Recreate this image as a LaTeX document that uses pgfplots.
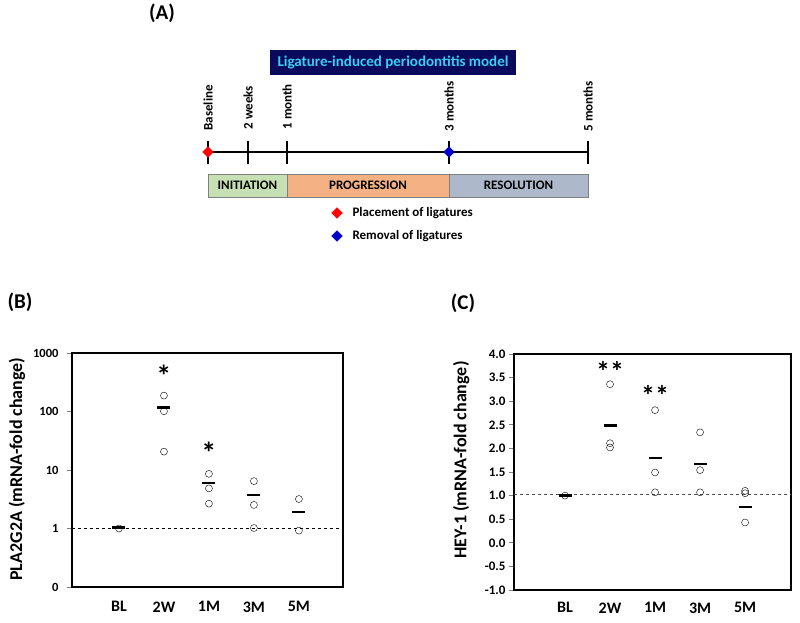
\documentclass[border=0pt]{standalone}
\usepackage{pgfplots}
\pgfplotsset{compat=1.18}
\usepackage{fontspec}
\setmainfont{Carlito}
\definecolor{navyb}{HTML}{0A0A5C}
\definecolor{cyantext}{HTML}{38CDF2}
\definecolor{initg}{HTML}{C6E0B4}
\definecolor{progo}{HTML}{F4B183}
\definecolor{resolb}{HTML}{ADB9CA}
\newcommand{\fs}[1]{\fontsize{#1}{#1}\selectfont\bfseries}
\begin{document}
\begin{tikzpicture}
\useasboundingbox (0pt,0pt) rectangle (800pt,622pt);
% ---------------- Panel A (timeline), pixel coordinates, y downward
\begin{axis}[at={(0pt,0pt)},anchor=south west,scale only axis,width=800pt,height=622pt,
  xmin=0,xmax=800,ymin=0,ymax=622,y dir=reverse,axis lines=none,clip=false]
\fill[navyb] (axis cs:270,50) rectangle (axis cs:516,75);
\node[text=cyantext,font=\fs{15}] at (axis cs:393,62.5) {Ligature-induced periodontitis model};
\addplot[black,line width=1.5pt] coordinates {(208,152) (588,152)};
\addplot[black,line width=1.6pt,only marks,mark=|,mark size=11.5pt] coordinates {(208,152) (248,152) (287,152) (449,152) (588,152)};
\node[rotate=90,anchor=west,font=\fs{13}] at (axis cs:208,134) {Baseline};
\node[rotate=90,anchor=west,font=\fs{13}] at (axis cs:248,133) {2 weeks};
\node[rotate=90,anchor=west,font=\fs{13}] at (axis cs:287,133) {1 month};
\node[rotate=90,anchor=west,font=\fs{13}] at (axis cs:449,135) {3 months};
\node[rotate=90,anchor=west,font=\fs{13}] at (axis cs:588,135) {5 months};
\draw[fill=initg,draw=gray] (axis cs:208,174) rectangle (axis cs:287,197);
\draw[fill=progo,draw=gray] (axis cs:287,174) rectangle (axis cs:449,197);
\draw[fill=resolb,draw=gray] (axis cs:449,174) rectangle (axis cs:588,197);
\node[font=\fs{13}] at (axis cs:247.5,185.5) {INITIATION};
\node[font=\fs{13}] at (axis cs:368,185.5) {PROGRESSION};
\node[font=\fs{13}] at (axis cs:518.5,185.5) {RESOLUTION};
\addplot[only marks,mark=square*,mark size=3.8pt,mark options={rotate=45},color=red] coordinates {(208,152) (337,213)};
\addplot[only marks,mark=square*,mark size=3.8pt,mark options={rotate=45},color=blue!80!black] coordinates {(449,152) (337,236)};
\node[anchor=west,font=\fs{13}] at (axis cs:349,213) {Placement of ligatures};
\node[anchor=west,font=\fs{13}] at (axis cs:349,236) {Removal of ligatures};
\node[font=\fs{21}] at (axis cs:162,13) {(A)};
\node[font=\fs{21}] at (axis cs:20,302) {(B)};
\node[font=\fs{21}] at (axis cs:463,303) {(C)};
\end{axis}
% ---------------- Panel B
\begin{axis}[at={(72pt,35pt)},anchor=south west,scale only axis,width=271pt,height=234pt,
  ymode=log,ymin=0.1,ymax=1000,xmin=-1.044,xmax=4.98,
  ytick={0.1,1,10,100,1000},yticklabels={0,1,10,100,1000},
  xtick={0,1,2,3,4},xticklabels={BL,2W,1M,3M,5M},
  axis line style={line width=1.5pt},
  tick align=outside,ytick pos=left,major tick length=5pt,
  ytick style={line width=1pt},xtick style={draw=none},
  yminorticks=false,
  yticklabel style={font=\fs{12.5},xshift=-5pt},
  xticklabel style={font=\fs{16},yshift=-6pt},
  ylabel={PLA2G2A (mRNA-fold change)},
  ylabel style={font=\fs{18},at={(axis description cs:-0.203,0.504)},anchor=center},
  clip=false]
\addplot[black,dashed,thin] coordinates {(-1.044,1) (4.98,1)};
\addplot[only marks,mark=o,mark size=3.5pt,black,thin] coordinates {
 (0,1.0) (1,187) (1,101) (1,20.6) (2,8.6) (2,4.85) (2,2.66) (3,6.46) (3,2.53) (3,1.02) (4,3.19) (4,0.92)};
\addplot[only marks,mark=-,mark size=6.5pt,black,line width=2.6pt] coordinates {
 (0,1.03) (1,117) (2,5.97) (3,3.73) (4,1.92)};
\node[font=\fs{30}] at (axis cs:1,412) {*};
\node[font=\fs{30}] at (axis cs:2,20) {*};
\end{axis}
% ---------------- Panel C
\begin{axis}[at={(514pt,32pt)},anchor=south west,scale only axis,width=277pt,height=236pt,
  ymin=-1,ymax=4,xmin=-1.133,xmax=5.02,
  ytick={-1,-0.5,0,0.5,1,1.5,2,2.5,3,3.5,4},
  yticklabels={-1.0,-0.5,0.0,0.5,1.0,1.5,2.0,2.5,3.0,3.5,4.0},
  xtick={0,1,2,3,4},xticklabels={BL,2W,1M,3M,5M},
  axis line style={line width=1.5pt},
  tick align=outside,ytick pos=left,major tick length=5pt,
  ytick style={line width=1pt},xtick style={draw=none},
  yticklabel style={font=\fs{13}},
  xticklabel style={font=\fs{16},yshift=-4pt},
  ylabel={HEY-1 (mRNA-fold change)},
  ylabel style={font=\fs{18},at={(axis description cs:-0.191,0.55)},anchor=center},
  clip=false]
\addplot[black!70,dashed,thin] coordinates {(-1.133,1.04) (5.02,1.04)};
\addplot[only marks,mark=o,mark size=3.5pt,black,thin] coordinates {
 (0,1.0) (1,3.36) (1,2.11) (1,2.02) (2,2.81) (2,1.49) (2,1.07) (3,2.34) (3,1.54) (3,1.07) (4,1.10) (4,1.05) (4,0.43)};
\addplot[only marks,mark=-,mark size=6.5pt,black,line width=2.6pt] coordinates {
 (0,1.0) (1,2.49) (2,1.80) (3,1.67) (4,0.76)};
\node[font=\fs{28}] at (axis cs:1,3.62) {**};
\node[font=\fs{28}] at (axis cs:2,3.13) {**};
\end{axis}
\end{tikzpicture}
\end{document}
